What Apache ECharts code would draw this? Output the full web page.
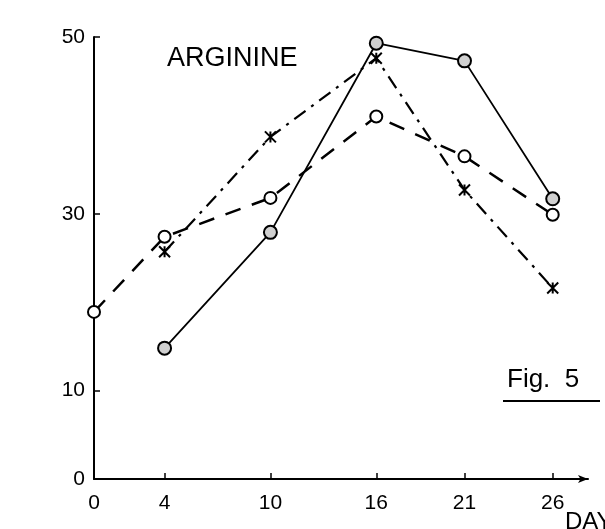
<!DOCTYPE html>
<html>
<head>
<meta charset="utf-8">
<style>html,body{margin:0;padding:0;background:#fff;}#c{width:605px;height:529px;}</style>
<script src="https://cdn.jsdelivr.net/npm/echarts@6/dist/echarts.min.js"></script>
</head>
<body>
<div id="c"></div>
<script>
// Data (days vs. value)
const xTicks = [0, 4, 10, 16, 21, 26];
const yTicks = [0, 10, 30, 50];
const solidDays = [4, 10, 16, 21, 26];
const solidVals = [14.8, 27.9, 49.3, 47.3, 31.7];
const dashedDays = [0, 4, 10, 16, 21, 26];
const dashedVals = [18.9, 27.4, 31.8, 41.0, 36.5, 29.9];
const dashDotDays = [4, 10, 16, 21, 26];
const dashDotVals = [25.7, 38.7, 47.6, 32.7, 21.6];

const pair = (xs, ys) => xs.map((x, i) => [x, ys[i]]);
const FONT = 'Liberation Sans';
const X_SYM = 'path://M0,0L10,10M10,0L0,10M5,0L5,10';

const chart = echarts.init(document.getElementById('c'), null, {renderer: 'canvas'});
chart.setOption({
  backgroundColor: '#fff',
  animation: false,
  grid: {left: 94, top: 37, width: 494, bottom: 50, containLabel: false},
  xAxis: {
    type: 'value', min: 0, max: 28,
    axisLine: {lineStyle: {color: '#000', width: 2}, symbol: ['none', 'arrow'], symbolSize: [6, 10]},
    axisTick: {inside: true, length: 6, lineStyle: {color: '#000', width: 1.5}, customValues: xTicks},
    axisLabel: {color: '#000', fontSize: 21, fontFamily: FONT, margin: 14, customValues: xTicks},
    splitLine: {show: false}
  },
  yAxis: {
    type: 'value', min: 0, max: 50,
    axisLine: {show: true, lineStyle: {color: '#000', width: 2}},
    axisTick: {inside: true, length: 6, lineStyle: {color: '#000', width: 1.5}, customValues: yTicks},
    axisLabel: {color: '#000', fontSize: 21, fontFamily: FONT, margin: 9, customValues: yTicks},
    splitLine: {show: false}
  },
  series: [
    {
      type: 'line', data: pair(solidDays, solidVals),
      lineStyle: {color: '#000', width: 1.8, type: 'solid'},
      symbol: 'circle', symbolSize: 13,
      itemStyle: {color: '#d0d0d0', borderColor: '#000', borderWidth: 2}
    },
    {
      type: 'line', data: pair(dashedDays, dashedVals),
      lineStyle: {color: '#000', width: 2.5, type: [16, 12]},
      symbol: 'circle', symbolSize: 12,
      itemStyle: {color: '#fff', borderColor: '#000', borderWidth: 2}
    },
    {
      type: 'line', data: pair(dashDotDays, dashDotVals),
      lineStyle: {color: '#000', width: 2.2, type: [14, 7, 3, 7]},
      symbol: X_SYM, symbolSize: 11,
      itemStyle: {color: 'none', borderColor: '#000', borderWidth: 2}
    }
  ],
  graphic: [
    {type: 'text', left: 167, top: 45, style: {text: 'ARGININE', fontSize: 27, fontFamily: FONT, fill: '#000'}},
    {type: 'text', left: 507, top: 367, style: {text: 'Fig.  5', fontSize: 26, fontFamily: FONT, fill: '#000'}},
    {type: 'line', shape: {x1: 503, y1: 401, x2: 600, y2: 401}, style: {stroke: '#000', lineWidth: 2}},
    {type: 'text', left: 565, top: 510, style: {text: 'DAYS', fontSize: 24, fontFamily: FONT, fill: '#000'}}
  ]
});
</script>
</body>
</html>
